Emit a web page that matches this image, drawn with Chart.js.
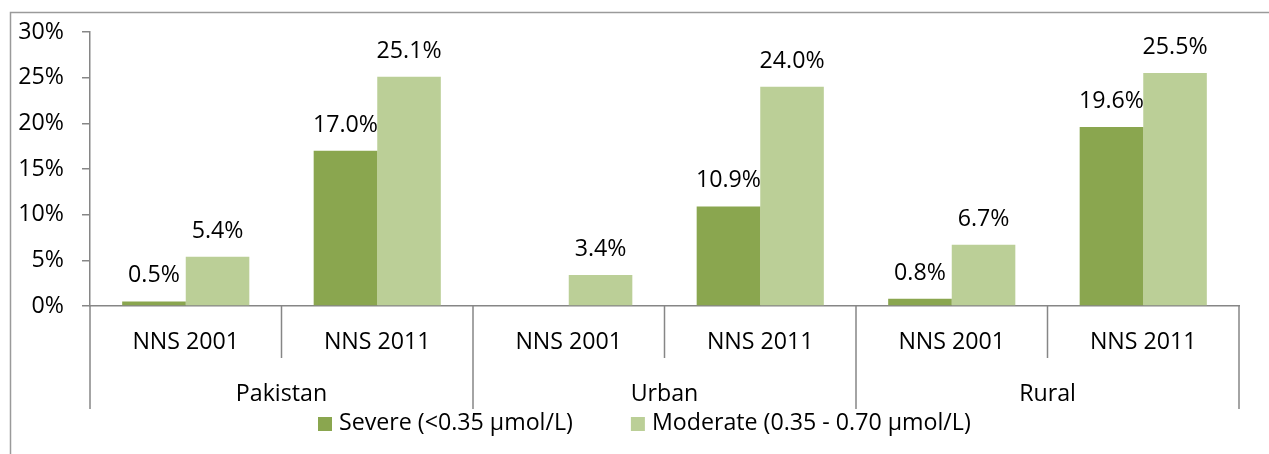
<!DOCTYPE html>
<html>
<head>
<meta charset="utf-8">
<script src="https://cdn.jsdelivr.net/npm/chart.js@4/dist/chart.umd.min.js"></script>
<style>
  html, body { margin: 0; padding: 0; background: #fff; }
  #wrap { width: 1269px; height: 454px; position: relative; }
</style>
</head>
<body>
<div id="wrap"><canvas id="c" width="1269" height="454"></canvas></div>
<script>
// ---- data ----
const categories = ['NNS 2001', 'NNS 2011', 'NNS 2001', 'NNS 2011', 'NNS 2001', 'NNS 2011'];
const groups = ['Pakistan', 'Urban', 'Rural'];
const severe = [0.5, 17.0, null, 10.9, 0.8, 19.6];
const moderate = [5.4, 25.1, 3.4, 24.0, 6.7, 25.5];
const seriesNames = ['Severe (<0.35 µmol/L)', 'Moderate (0.35 - 0.70 µmol/L)'];
const yMin = 0, yMax = 30, yStep = 5;

// ---- styles ----
const FONT = "'Open Sans', 'DejaVu Sans', sans-serif";
const FSIZE = 23.2;
const AXIS = '#868686';
const COLORS = ['#8aa64f', '#bbcf97'];

Chart.defaults.font.family = FONT;
Chart.defaults.font.size = FSIZE;
Chart.defaults.color = '#000';

const decor = {
  id: 'decor',
  afterDraw(chart) {
    const ctx = chart.ctx;
    const xs = chart.scales.x;
    const area = chart.chartArea;
    ctx.save();
    // outer frame (partially visible)
    ctx.strokeStyle = '#9a9a9a';
    ctx.lineWidth = 1.5;
    ctx.beginPath();
    ctx.moveTo(10.5, chart.height);
    ctx.lineTo(10.5, 12.5);
    ctx.lineTo(chart.width, 12.5);
    ctx.stroke();

    // hierarchical category axis
    const n = categories.length;
    const w = (xs.right - xs.left) / n;
    ctx.strokeStyle = AXIS;
    ctx.lineWidth = 1.5;
    for (let i = 0; i <= n; i++) {
      const x = xs.left + i * w;
      const len = (i % 2 === 0) ? 103 : 52;
      ctx.beginPath();
      ctx.moveTo(x, area.bottom);
      ctx.lineTo(x, area.bottom + len);
      ctx.stroke();
    }
    ctx.fillStyle = '#000';
    ctx.font = FSIZE + 'px ' + FONT;
    ctx.textAlign = 'center';
    ctx.textBaseline = 'alphabetic';
    for (let i = 0; i < n; i++) {
      ctx.fillText(categories[i], xs.getPixelForValue(i), area.bottom + 43);
    }
    const per = n / groups.length;
    for (let g = 0; g < groups.length; g++) {
      const cx = xs.left + (g * per + per / 2) * w;
      ctx.fillText(groups[g], cx, area.bottom + 95);
    }

    // data labels
    chart.data.datasets.forEach((ds, di) => {
      const meta = chart.getDatasetMeta(di);
      meta.data.forEach((bar, i) => {
        const v = ds.data[i];
        if (v === null || v === undefined) return;
        ctx.fillText(v.toFixed(1) + '%', bar.x, bar.y - 19);
      });
    });

    // legend
    let lx = 318;
    const ly = 417;
    ctx.textAlign = 'left';
    chart.data.datasets.forEach((ds, di) => {
      ctx.fillStyle = ds.backgroundColor;
      ctx.fillRect(lx, ly, 14, 14);
      ctx.fillStyle = '#000';
      ctx.fillText(ds.label, lx + 21, 430);
      lx += 21 + ctx.measureText(ds.label).width + 58;
    });
    ctx.restore();
  }
};

new Chart(document.getElementById('c'), {
  type: 'bar',
  data: {
    labels: categories,
    datasets: [
      { label: seriesNames[0], data: severe, backgroundColor: COLORS[0], borderWidth: 0 },
      { label: seriesNames[1], data: moderate, backgroundColor: COLORS[1], borderWidth: 0 }
    ]
  },
  options: {
    responsive: false,
    animation: false,
    events: [],
    categoryPercentage: 0.664,
    barPercentage: 1.0,
    layout: { padding: { left: 10, right: 30, top: 30, bottom: 0 } },
    plugins: {
      legend: { display: false },
      tooltip: { enabled: false },
      title: { display: false }
    },
    scales: {
      x: {
        grid: { display: false },
        ticks: { display: false },
        border: { display: true, color: AXIS, width: 1.5 },
        afterFit(scale) { scale.height = 148; }
      },
      y: {
        min: yMin,
        max: yMax,
        ticks: {
          stepSize: yStep,
          padding: 18,
          callback: (v) => v + '%',
          font: { size: FSIZE }
        },
        grid: { display: true, drawOnChartArea: false, drawTicks: true, tickLength: 8, color: AXIS, lineWidth: 1.5 },
        border: { display: true, color: AXIS, width: 1.5 },
        afterFit(scale) { scale.width = 80; }
      }
    }
  },
  plugins: [decor]
});
</script>
</body>
</html>
